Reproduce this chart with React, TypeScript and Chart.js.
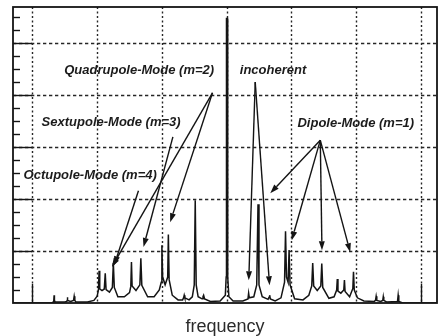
import React, { useEffect, useRef } from "react";
import { Chart, registerables } from "chart.js";

Chart.register(...registerables);

// Spectrum (x: frequency in grid units, y: amplitude in grid units)
const frequency = [
  -0.3, 0.3,
  0.32, 0.33, 0.335, 0.34, 0.35,
  0.5,
  0.53, 0.536, 0.54, 0.545,
  0.59,
  0.635, 0.645, 0.655, 0.67,
  0.85, 0.95, 1.0,
  1.02, 1.03, 1.04,
  1.075,
  1.11, 1.125, 1.138,
  1.19,
  1.235, 1.25, 1.265,
  1.32, 1.42, 1.5,
  1.52, 1.53, 1.54,
  1.6,
  1.66, 1.675, 1.69,
  1.78, 1.88, 1.96,
  1.99, 2.0, 2.012,
  2.05,
  2.09, 2.1, 2.112,
  2.16, 2.25, 2.32,
  2.335, 2.345, 2.355,
  2.42,
  2.47, 2.5, 2.515, 2.53, 2.56,
  2.62, 2.635, 2.645, 2.66,
  2.75, 2.9, 2.98,
  2.993, 2.998, 3.012, 3.017,
  3.035, 3.1, 3.25,
  3.33, 3.34, 3.35,
  3.42, 3.465, 3.485, 3.5, 3.55,
  3.64, 3.655, 3.665, 3.675,
  3.75, 3.84, 3.895,
  3.91, 3.925, 3.95, 3.965, 3.98,
  4.05, 4.18, 4.27,
  4.315, 4.33, 4.345,
  4.4,
  4.455, 4.47, 4.485,
  4.58, 4.66,
  4.7, 4.71, 4.72,
  4.765,
  4.81, 4.82, 4.83,
  4.9, 4.95, 4.96, 4.972,
  5.02, 5.12, 5.28,
  5.3, 5.31, 5.32,
  5.38, 5.412, 5.42, 5.428, 5.47,
  5.64, 5.65, 5.66,
  5.72, 6.25,
];

const amplitude = [
  0, 0,
  0.02, 0.05, 0.15, 0.05, 0.02,
  0.02,
  0.03, 0.05, 0.11, 0.05,
  0.03,
  0.05, 0.13, 0.05, 0.02,
  0.02, 0.05, 0.13,
  0.25, 0.62, 0.27,
  0.24,
  0.27, 0.57, 0.26,
  0.21,
  0.3, 0.77, 0.3,
  0.12, 0.12, 0.2,
  0.32, 0.79, 0.33,
  0.24,
  0.35, 0.86, 0.34,
  0.12, 0.12, 0.25,
  0.4, 1.11, 0.5,
  0.35,
  0.5, 1.32, 0.45,
  0.15, 0.06, 0.06,
  0.1, 0.15, 0.1,
  0.06,
  0.12, 0.35, 1.98, 0.35, 0.12,
  0.08, 0.12, 0.15, 0.08,
  0.03, 0.04, 0.15,
  0.5, 5.48, 5.48, 0.5,
  0.12, 0.04, 0.04,
  0.08, 0.19, 0.1,
  0.12, 0.35, 1.9, 0.35, 0.12,
  0.07, 0.11, 0.15, 0.08,
  0.04, 0.1, 0.4,
  1.38, 0.5, 0.4, 1.02, 0.35,
  0.08, 0.06, 0.15,
  0.33, 0.77, 0.33,
  0.24,
  0.33, 0.76, 0.3,
  0.09, 0.12,
  0.25, 0.46, 0.23,
  0.19,
  0.25, 0.44, 0.22,
  0.12, 0.28, 0.6, 0.25,
  0.1, 0.04, 0.03,
  0.05, 0.13, 0.05,
  0.03, 0.05, 0.12, 0.05, 0.02,
  0.03, 0.15, 0.03,
  0, 0,
];

const xMin = -0.3;
const xMax = 6.25;
const yMin = 0;
const yMax = 5.7;
const xGridValues = [0, 1, 2, 3, 4, 5, 6];
const xMajorTicks = [0, 6];
const yGridValues = [1, 2, 3, 4, 5];
const yMinorTicks = [
  0.25, 0.5, 0.75, 1.25, 1.5, 1.75, 2.25, 2.5, 2.75, 3.25, 3.5, 3.75,
  4.25, 4.5, 4.75, 5.25, 5.5,
];

const labelTexts = [
  "Quadrupole-Mode (m=2)",
  "Sextupole-Mode (m=3)",
  "Octupole-Mode (m=4)",
  "incoherent",
  "Dipole-Mode (m=1)",
];
const labelX = [1.649, 1.216, 0.892, 3.717, 4.995];
const labelY = [4.485, 3.47, 2.461, 4.472, 3.458];

const arrowFromX = [2.782, 2.782, 2.17, 1.638, 3.442, 3.442, 4.447, 4.447, 4.447, 4.447];
const arrowFromY = [4.048, 4.048, 3.2, 2.163, 4.254, 4.254, 3.136, 3.136, 3.136, 3.136];
const arrowToX = [1.227, 2.128, 1.716, 1.263, 3.342, 3.663, 3.674, 4.006, 4.473, 4.91];
const arrowToY = [0.694, 1.556, 1.079, 0.727, 0.438, 0.341, 2.114, 1.209, 1.015, 0.977];

const axisTitle = "frequency";

const INK = "#141414";

const decorPlugin = {
  id: "decor",
  beforeDraw(chart: any) {
    const ctx = chart.ctx;
    ctx.save();
    ctx.fillStyle = "#ffffff";
    ctx.fillRect(0, 0, chart.width, chart.height);
    ctx.restore();
  },
  beforeDatasetsDraw(chart: any) {
    const ctx = chart.ctx;
    const { left, right, top, bottom } = chart.chartArea;
    const xs = chart.scales.x;
    const ys = chart.scales.y;
    ctx.save();
    ctx.strokeStyle = "#262626";
    ctx.lineWidth = 1.4;
    // vertical dotted grid
    ctx.setLineDash([2, 2.5]);
    for (const v of xGridValues) {
      const px = Math.round(xs.getPixelForValue(v)) + 0.5;
      ctx.beginPath();
      ctx.moveTo(px, top);
      ctx.lineTo(px, bottom);
      ctx.stroke();
    }
    // horizontal dotted grid
    ctx.setLineDash([3.3, 2.7]);
    for (const v of yGridValues) {
      const py = Math.round(ys.getPixelForValue(v)) + 0.5;
      ctx.beginPath();
      ctx.moveTo(left, py);
      ctx.lineTo(right, py);
      ctx.stroke();
    }
    ctx.setLineDash([]);
    ctx.strokeStyle = INK;
    ctx.lineWidth = 1.4;
    // left major ticks
    for (const v of yGridValues) {
      const py = Math.round(ys.getPixelForValue(v)) + 0.5;
      ctx.beginPath();
      ctx.moveTo(left, py);
      ctx.lineTo(left + 19, py);
      ctx.stroke();
    }
    // left minor ticks
    for (const v of yMinorTicks) {
      const py = Math.round(ys.getPixelForValue(v)) + 0.5;
      ctx.beginPath();
      ctx.moveTo(left, py);
      ctx.lineTo(left + 7, py);
      ctx.stroke();
    }
    // bottom major ticks
    for (const v of xMajorTicks) {
      const px = Math.round(xs.getPixelForValue(v)) + 0.5;
      ctx.beginPath();
      ctx.moveTo(px, bottom);
      ctx.lineTo(px, bottom - 19);
      ctx.stroke();
    }
    // frame
    ctx.lineWidth = 1.8;
    ctx.strokeRect(left, top, right - left, bottom - top);
    ctx.restore();
  },
  afterDatasetsDraw(chart: any) {
    const ctx = chart.ctx;
    const xs = chart.scales.x;
    const ys = chart.scales.y;
    const area = chart.chartArea;
    ctx.save();
    // arrows
    ctx.strokeStyle = INK;
    ctx.fillStyle = INK;
    ctx.lineWidth = 1.4;
    for (let i = 0; i < arrowFromX.length; i++) {
      const x1 = xs.getPixelForValue(arrowFromX[i]);
      const y1 = ys.getPixelForValue(arrowFromY[i]);
      const x2 = xs.getPixelForValue(arrowToX[i]);
      const y2 = ys.getPixelForValue(arrowToY[i]);
      const ang = Math.atan2(y2 - y1, x2 - x1);
      const len = 9;
      const half = 3;
      const bx = x2 - len * Math.cos(ang);
      const by = y2 - len * Math.sin(ang);
      ctx.beginPath();
      ctx.moveTo(x1, y1);
      ctx.lineTo(bx, by);
      ctx.stroke();
      ctx.beginPath();
      ctx.moveTo(x2, y2);
      ctx.lineTo(bx + half * Math.sin(ang), by - half * Math.cos(ang));
      ctx.lineTo(bx - half * Math.sin(ang), by + half * Math.cos(ang));
      ctx.closePath();
      ctx.fill();
    }
    // labels
    ctx.font = 'italic bold 13px "Liberation Sans", Arial, sans-serif';
    ctx.textAlign = "center";
    ctx.textBaseline = "middle";
    ctx.fillStyle = "#1c1c1c";
    for (let i = 0; i < labelTexts.length; i++) {
      ctx.fillText(
        labelTexts[i],
        xs.getPixelForValue(labelX[i]),
        ys.getPixelForValue(labelY[i])
      );
    }
    // axis title
    ctx.font = '18px "Liberation Sans", Arial, sans-serif';
    ctx.fillStyle = "#2b2b2b";
    ctx.textBaseline = "middle";
    ctx.fillText(axisTitle, (area.left + area.right) / 2, area.bottom + 24);
    ctx.restore();
  },
};

export default function App() {
  const canvasRef = useRef<HTMLCanvasElement | null>(null);

  useEffect(() => {
    const canvas = canvasRef.current;
    if (!canvas) return;
    const points = frequency.map((f, i) => ({ x: f, y: amplitude[i] }));
    const chart = new Chart(canvas, {
      type: "line",
      data: {
        datasets: [
          {
            data: points,
            borderColor: INK,
            borderWidth: 1.5,
            pointRadius: 0,
            tension: 0,
            fill: false,
          },
        ],
      },
      options: {
        animation: false,
        responsive: false,
        maintainAspectRatio: false,
        events: [],
        layout: { padding: { left: 13, right: 10, top: 7, bottom: 33 } },
        scales: {
          x: { type: "linear", min: xMin, max: xMax, display: false },
          y: { type: "linear", min: yMin, max: yMax, display: false },
        },
        plugins: {
          legend: { display: false },
          tooltip: { enabled: false },
          title: { display: false },
        },
      },
      plugins: [decorPlugin],
    });
    return () => chart.destroy();
  }, []);

  return (
    <div style={{ position: "absolute", left: 0, top: 0, width: 447, height: 336, background: "#fff" }}>
      <canvas ref={canvasRef} width={447} height={336} style={{ display: "block" }} />
    </div>
  );
}
